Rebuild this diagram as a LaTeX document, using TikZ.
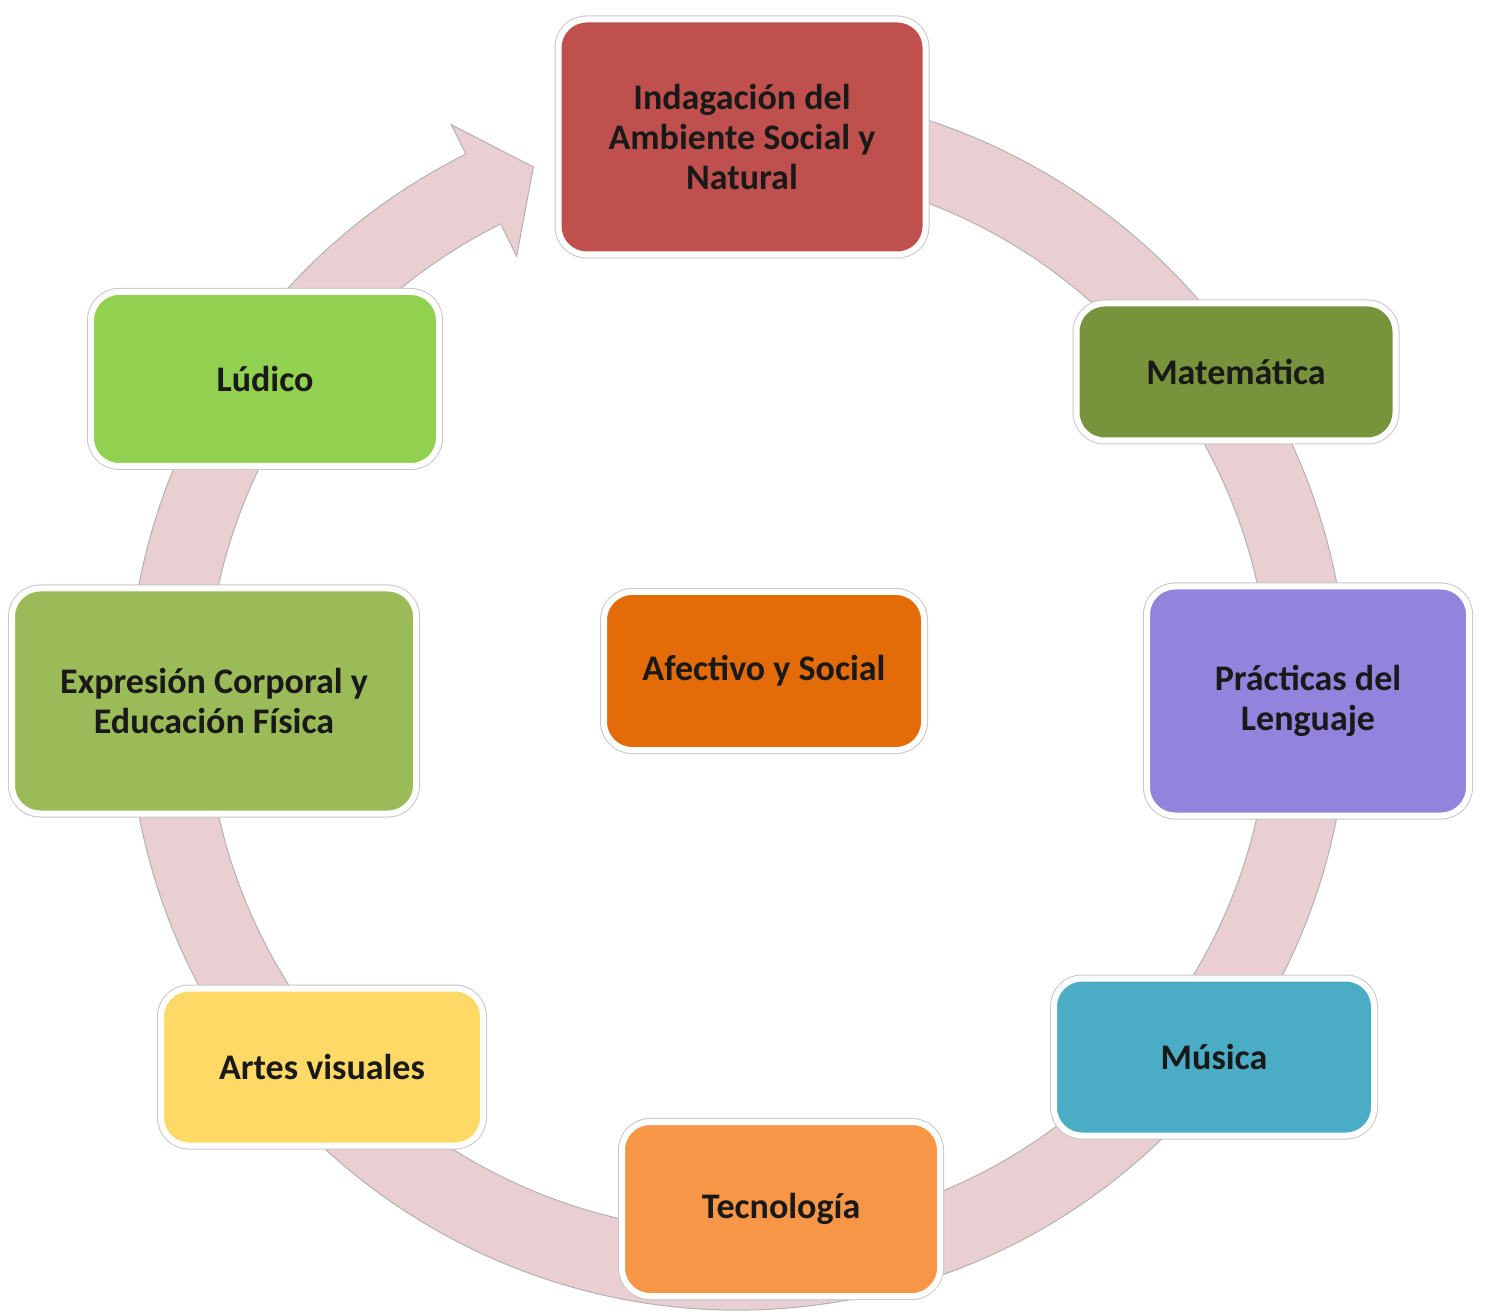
\documentclass[tikz,border=0pt]{standalone}
\usepackage{fontspec}
\setmainfont{Carlito}
\usepackage{tikz}
\usetikzlibrary{positioning}

\definecolor{ringpink}{RGB}{233,206,210}
\definecolor{cRed}{RGB}{192,80,77}
\definecolor{cOlive}{RGB}{119,147,60}
\definecolor{cPurple}{RGB}{147,131,220}
\definecolor{cAqua}{RGB}{75,172,198}
\definecolor{cOrange}{RGB}{247,150,70}
\definecolor{cGold}{RGB}{255,217,102}
\definecolor{cLeaf}{RGB}{155,187,89}
\definecolor{cLime}{RGB}{146,208,80}
\definecolor{cDeep}{RGB}{227,108,9}

\begin{document}
\begin{tikzpicture}[
  x=0.5pt, y=0.5pt,
  font=\fontsize{18}{20}\selectfont\bfseries,
  box/.style={draw=white, line width=3pt, rounded corners=14pt, align=center, inner sep=2pt,
              text=black!90, preaction={draw=black!22, line width=4pt}},
  ring/.style={fill=ringpink, draw=black!30, line width=0.5pt}
]
\useasboundingbox (0,0) rectangle (1491,1313);
% cycle arrow
\path[ring, shift={(738,613)}]
  (100:610) arc[start angle=100, end angle=-243.5, radius=610]
  -- (116.5:643) -- (111:571) -- (116.5:496) -- (116.5:532)
  arc[start angle=-243.5, end angle=100, radius=532] -- cycle;
% boxes
\node[box, fill=cRed, minimum width=183.5pt, minimum height=117.5pt] (indag) at (742,1176)
  {Indagación del\\Ambiente Social y\\Natural};
\node[box, fill=cOlive, minimum width=159.5pt, minimum height=68.5pt] (mate) at (1236,941) {Matemática};
\node[box, fill=cPurple, minimum width=161pt, minimum height=114.5pt] (prac) at (1308,612) {Prácticas del\\Lenguaje};
\node[box, fill=cAqua, minimum width=160pt, minimum height=78.5pt] (musica) at (1214,256) {Música};
\node[box, fill=cOrange, minimum width=159pt, minimum height=87pt] (tecno) at (781,104) {Tecnología};
\node[box, fill=cGold, minimum width=161pt, minimum height=78.5pt] (artes) at (322,246) {Artes visuales};
\node[box, fill=cLeaf, minimum width=202pt, minimum height=112.5pt] (expr) at (214,612) {Expresión Corporal y\\Educación Física};
\node[box, fill=cLime, minimum width=174pt, minimum height=87pt] (ludico) at (265,934) {Lúdico};
\node[box, fill=cDeep, minimum width=160pt, minimum height=79pt] (afect) at (764,642) {Afectivo y Social};
\end{tikzpicture}
\end{document}
